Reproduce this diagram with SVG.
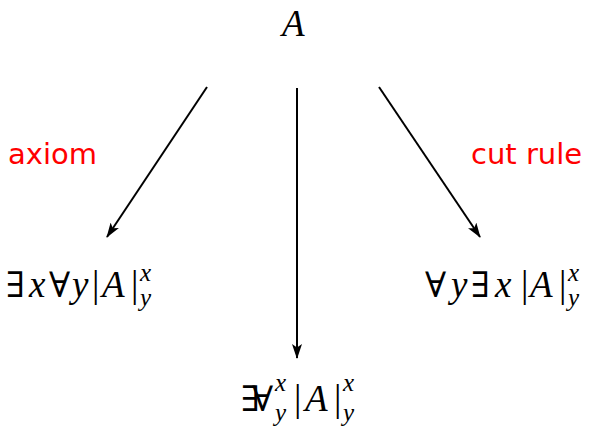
<svg xmlns="http://www.w3.org/2000/svg" width="592" height="432" viewBox="0 0 592 432">
<style>
.m{font-family:"Liberation Serif",serif;font-size:37px;fill:#000}
.i{font-style:italic}
.q{font-family:"DejaVu Serif","Liberation Serif",serif;font-style:normal;font-size:35px}
.s{font-size:25px}
.lbl{font-family:"DejaVu Sans",sans-serif;font-size:29px;fill:#ff0000}
.e{stroke:#000;stroke-width:2;fill:none}
</style>
<defs>
<marker id="ah" viewBox="0 0 15 10" refX="14" refY="5" markerWidth="15" markerHeight="10" markerUnits="userSpaceOnUse" orient="auto">
<path d="M0,0 L15,5 L0,10 L3.5,5 Z" fill="#000"/>
</marker>
</defs>
<rect width="592" height="432" fill="#fff"/>
<g id="connectors">
<line class="e" x1="207" y1="87" x2="107" y2="237" marker-end="url(#ah)"/>
<line class="e" x1="297" y1="88" x2="297" y2="358" marker-end="url(#ah)"/>
<line class="e" x1="379" y1="87" x2="480" y2="237" marker-end="url(#ah)"/>
</g>
<g id="nA"><text class="m i" x="282" y="36">A</text></g>
<g id="nLeft">
<text class="m"><tspan class="q" x="6" y="297">∃</tspan><tspan class="i" x="29" y="297">x</tspan><tspan class="q" x="49" y="297">∀</tspan><tspan class="i" x="72" y="297">y</tspan><tspan x="92" y="297">|</tspan><tspan class="i" x="102" y="297">A</tspan><tspan x="131" y="297">|</tspan></text>
<text class="m i s" x="140" y="281">x</text>
<text class="m i s" x="140" y="306">y</text>
</g>
<g id="nRight">
<text class="m"><tspan class="q" x="425" y="297">∀</tspan><tspan class="i" x="451" y="297">y</tspan><tspan class="q" x="471" y="297">∃</tspan><tspan class="i" x="495" y="297">x</tspan><tspan x="521" y="297">|</tspan><tspan class="i" x="530" y="297">A</tspan><tspan x="559" y="297">|</tspan></text>
<text class="m i s" x="568" y="281">x</text>
<text class="m i s" x="568" y="306">y</text>
</g>
<g id="nBottom">
<text class="m"><tspan class="q" x="241" y="411">∃</tspan><tspan class="q" x="252" y="411">∀</tspan></text>
<text class="m i s" x="275" y="391">x</text>
<text class="m i s" x="275" y="421">y</text>
<text class="m"><tspan x="294" y="411">|</tspan><tspan class="i" x="305" y="411">A</tspan><tspan x="334" y="411">|</tspan></text>
<text class="m i s" x="343" y="391">x</text>
<text class="m i s" x="343" y="421">y</text>
</g>
<g id="labels">
<text class="lbl" x="8" y="164">axiom</text>
<text class="lbl" x="471" y="164">cut rule</text>
</g>
</svg>
